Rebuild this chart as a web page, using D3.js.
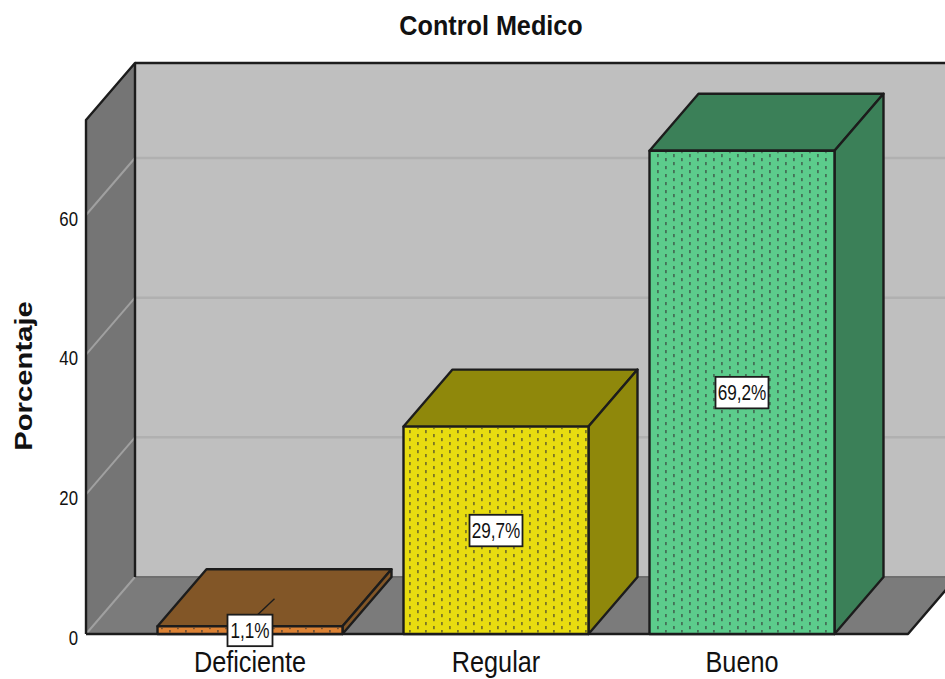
<!DOCTYPE html>
<html>
<head>
<meta charset="utf-8">
<script src="https://cdn.jsdelivr.net/npm/d3@7"></script>
<style>
html,body{margin:0;padding:0;background:#fff;overflow:hidden}
svg{display:block}
text{font-family:"Liberation Sans",Arial,sans-serif;fill:#111}
</style>
</head>
<body>
<svg id="chart" width="945" height="679"></svg>
<script>
// Chart content
const categories = ["Deficiente", "Regular", "Bueno"];
const percentages = [1.1, 29.7, 69.2];
const valueLabels = ["1,1%", "29,7%", "69,2%"];
const yTicks = [0, 20, 40, 60];
const titleText = "Control Medico";
const yTitle = "Porcentaje";

// Colours per bar: front, top, side
const frontColors = ["#dc8234", "#e8dc10", "#5ccc8c"];
const topColors = ["#825627", "#8f880b", "#3b8058"];
const sideColors = ["#825627", "#8f880b", "#3b8058"];

const W = 945, H = 679;
const left = 86, right = 908, floorY = 634, topY = 120;
const dx = 49, dy = -57;          // oblique offset of the 3D depth

const y = d3.scaleLinear().domain([0, 73.6]).range([floorY, topY]);
const x = d3.scaleBand().domain(categories).range([127, 865]).paddingInner(0.248).paddingOuter(0.124);

const svg = d3.select("#chart");
const line = d3.line();
const poly = pts => line(pts) + "Z";
const ink = "#1c1c1c";

// Dotted fill laid over every bar front
const defs = svg.append("defs");
const pat = defs.append("pattern").attr("id", "dots").attr("patternUnits", "userSpaceOnUse")
  .attr("width", 16).attr("height", 8).attr("x", 158 % 16).attr("y", 2);
pat.append("rect").attr("x", 3).attr("y", 0).attr("width", 1.8).attr("height", 3.2).attr("fill", "#333").attr("opacity", .6);
pat.append("rect").attr("x", 11).attr("y", 4).attr("width", 1.8).attr("height", 3.2).attr("fill", "#333").attr("opacity", .6);

const root = svg.append("g");

// Back wall, side wall and floor
const backY0 = y(0) + dy, backYT = topY + dy;
root.append("path").attr("d", poly([[left + dx, backYT], [W + 20, backYT], [W + 20, backY0], [left + dx, backY0]])).attr("fill", "#bfbfbf");
root.append("path").attr("d", poly([[left, y(0)], [left + dx, backY0], [W + 20, backY0], [right + dx, backY0], [right, y(0)]])).attr("fill", "#7b7b7b");
root.append("path").attr("d", poly([[left, topY], [left + dx, backYT], [left + dx, backY0], [left, y(0)]])).attr("fill", "#757575");

// Gridlines run across the side wall and along the back wall
yTicks.forEach(t => {
  const v = y(t);
  root.append("line").attr("x1", left).attr("y1", v).attr("x2", left + dx).attr("y2", v + dy)
    .attr("stroke", "#a0a0a0").attr("stroke-width", 2);
  if (t > 0) root.append("line").attr("x1", left + dx).attr("y1", v + dy).attr("x2", W).attr("y2", v + dy)
    .attr("stroke", "#b0b0b0").attr("stroke-width", 2.5);
});

// Frame edges of the box
const edge = (pts, w) => root.append("path").attr("d", line(pts)).attr("fill", "none")
  .attr("stroke", ink).attr("stroke-width", w).attr("stroke-linejoin", "round");
root.append("line").attr("x1", left + dx).attr("y1", backY0).attr("x2", W).attr("y2", backY0)
  .attr("stroke", "#6e6e6e").attr("stroke-width", 2);
edge([[left, y(0)], [left, topY], [left + dx, backYT], [left + dx, backY0]], 2.4);
edge([[left + dx, backYT], [W, backYT]], 2.4);
edge([[left, y(0)], [right, y(0)], [right + dx, backY0]], 2.4);

// Bars: top face, side face, dotted front face
const bars = root.append("g").selectAll("g").data(categories).join("g");
bars.each(function (c, i) {
  const g = d3.select(this);
  const x0 = x(c), x1 = x0 + x.bandwidth(), yv = y(percentages[i]), yb = y(0);
  const face = (pts, fill) => g.append("path").attr("d", poly(pts)).attr("fill", fill)
    .attr("stroke", ink).attr("stroke-width", 2.4).attr("stroke-linejoin", "round");
  face([[x0, yv], [x0 + dx, yv + dy], [x1 + dx, yv + dy], [x1, yv]], topColors[i]);
  face([[x1, yv], [x1 + dx, yv + dy], [x1 + dx, yb + dy], [x1, yb]], sideColors[i]);
  face([[x0, yv], [x1, yv], [x1, yb], [x0, yb]], frontColors[i]);
  g.append("rect").attr("x", x0 + 1.5).attr("y", yv + 1.5).attr("width", x.bandwidth() - 3)
    .attr("height", Math.max(0, yb - yv - 3)).attr("fill", "url(#dots)");
});

// Leader from the smallest bar's label to the centre of its top face
const lx = x(categories[0]) + x.bandwidth() / 2;
root.append("line").attr("x1", lx + dx / 2).attr("y1", y(percentages[0]) + dy / 2 + 1)
  .attr("x2", lx + 6).attr("y2", y(percentages[0]) - 10).attr("stroke", ink).attr("stroke-width", 1.4);

// Value labels in white boxes at the middle of each front face
const labels = root.append("g").selectAll("g").data(categories).join("g")
  .attr("transform", (c, i) => `translate(${x(c) + x.bandwidth() / 2},${y(percentages[i] / 2)})`);
labels.append("rect").attr("x", (c, i) => i === 0 ? -22.5 : -26.5).attr("y", -15.5)
  .attr("width", (c, i) => i === 0 ? 45 : 53).attr("height", 31.5)
  .attr("fill", "#fff").attr("stroke", "#1c1c1c").attr("stroke-width", 1.8);
labels.append("text").attr("text-anchor", "middle").attr("y", 8).attr("font-size", 22)
  .attr("transform", "scale(0.78,1)").text((c, i) => valueLabels[i]);

// Axes
const xAxis = d3.axisBottom(x).tickSize(0);
const gx = svg.append("g").attr("transform", `translate(0,${floorY})`).call(xAxis);
gx.select(".domain").remove();
gx.selectAll("text").attr("font-size", 29).attr("font-family", null).attr("fill", "#222")
  .attr("transform", "scale(0.87,1)").attr("y", 17);

const yAxis = d3.axisLeft(y).tickValues(yTicks).tickFormat(d3.format("d")).tickSize(0).tickPadding(0);
const gy = svg.append("g").attr("transform", `translate(${left - 8},3.5)`).call(yAxis);
gy.select(".domain").remove();
gy.selectAll("text").attr("font-size", 21).attr("font-family", null).attr("fill", "#222")
  .attr("transform", "scale(0.8,1)").attr("x", 0);

// Titles
svg.append("text").attr("text-anchor", "middle").attr("font-weight", "bold").attr("font-size", 28)
  .attr("transform", "translate(491,35) scale(0.9,1)").text(titleText);
svg.append("text").attr("text-anchor", "middle").attr("font-weight", "bold").attr("font-size", 24)
  .attr("transform", "translate(32,376) rotate(-90) scale(1.22,1)").text(yTitle);
</script>
</body>
</html>
